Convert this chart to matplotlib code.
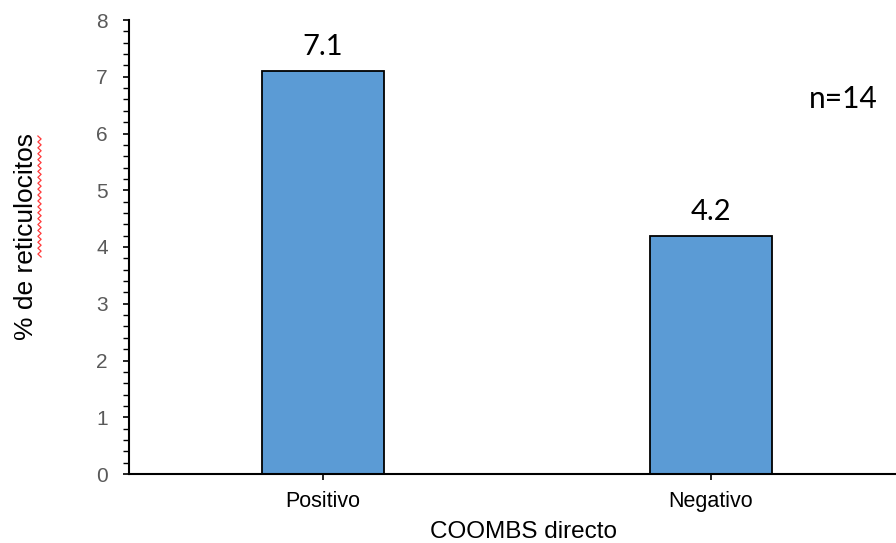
import matplotlib
matplotlib.use("Agg")
import matplotlib.pyplot as plt
from matplotlib.ticker import MultipleLocator
from matplotlib.lines import Line2D
import numpy as np

categories = ["Positivo", "Negativo"]
values = [7.1, 4.2]
value_labels = ["7.1", "4.2"]
y_ticks = [0, 1, 2, 3, 4, 5, 6, 7, 8]

W, H = 896, 543
fig = plt.figure(figsize=(W / 100, H / 100), dpi=100)
ax = fig.add_axes([129 / W, 1 - 474 / H, 776 / W, 454 / H])

x = np.arange(len(categories))
ax.bar(x, values, width=0.314, color="#5B9BD5", edgecolor="black", linewidth=1.3, zorder=2)

ax.set_xlim(-0.5, 1.5)
ax.set_ylim(0, 8)
ax.set_yticks(y_ticks)
ax.yaxis.set_minor_locator(MultipleLocator(0.2))
ax.set_xticks(x)
ax.set_xticklabels(categories, fontfamily="Liberation Sans", fontsize=15.5, color="black")
ax.set_yticklabels([str(t) for t in y_ticks], fontfamily="Liberation Sans", fontsize=15, color="#595959")

ax.tick_params(axis="y", which="major", direction="out", length=4.3, width=1.2, pad=11)
ax.tick_params(axis="y", which="minor", direction="out", length=4.0, width=1.0)
ax.tick_params(axis="x", which="major", direction="out", length=4.5, width=1.2, pad=8)

for side in ("top", "right"):
    ax.spines[side].set_visible(False)
for side in ("left", "bottom"):
    ax.spines[side].set_linewidth(1.5)
    ax.spines[side].set_color("black")

ax.set_xlabel("COOMBS directo", fontfamily="Liberation Sans", fontsize=17.5, va="baseline")
ax.xaxis.set_label_coords((524 - 129) / 776, -(538 - 474) / 454)
ax.set_ylabel("% de reticulocitos", fontfamily="Liberation Sans", fontsize=19, va="center")
ax.yaxis.set_label_coords(-(129 - 26) / 776, (474 - 237) / 454)

for xi, v, lab in zip(x, values, value_labels):
    ax.annotate(lab, (xi, v), xytext=(0, 11.5), textcoords="offset points",
                ha="center", va="baseline", fontsize=21, fontfamily="Lato", color="black")

fig.text(843 / W, 1 - 108 / H, "n=14", ha="center", va="baseline", fontsize=21.5,
         fontfamily="Lato", color="black")

# wavy spell-check underline beside the axis title
ys = np.linspace(136, 257, 42)
xs = 39.5 + np.where(np.arange(len(ys)) % 2 == 0, -1.6, 1.6)
fig.add_artist(Line2D(xs / W, 1 - ys / H, transform=fig.transFigure,
                      color="#FF3B3B", linewidth=0.9))

fig.savefig("out.png", dpi=100, facecolor="white")
